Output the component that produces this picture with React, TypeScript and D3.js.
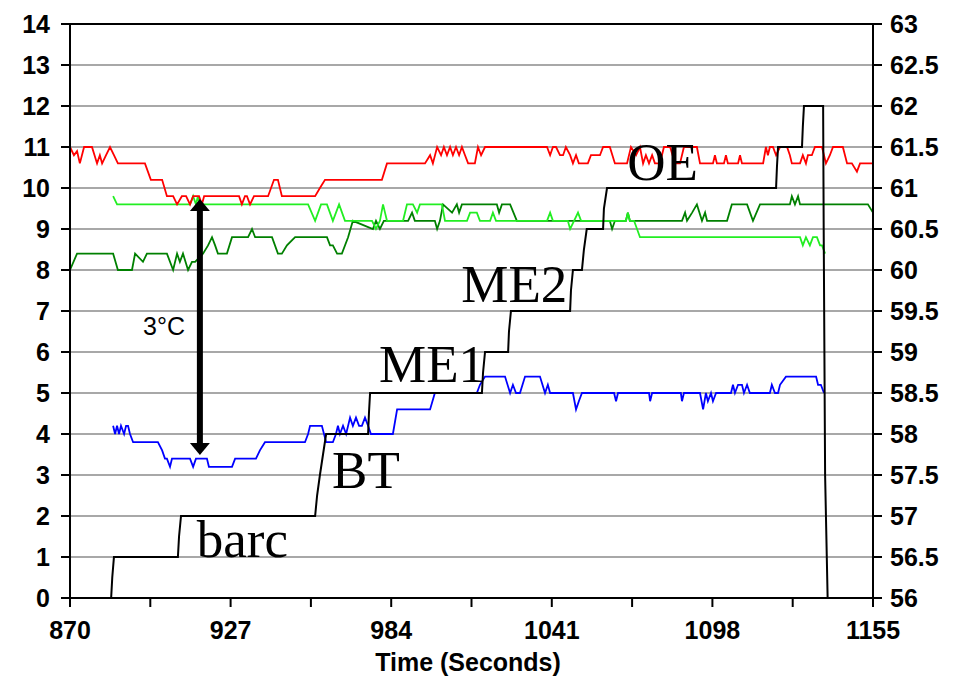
import React from "react";
import * as d3 from "d3";

// ---- Data (time in seconds, value on left axis units) ----
const leftTicks = [0, 1, 2, 3, 4, 5, 6, 7, 8, 9, 10, 11, 12, 13, 14];
const rightTicks = [56, 56.5, 57, 57.5, 58, 58.5, 59, 59.5, 60, 60.5, 61, 61.5, 62, 62.5, 63];
const xLabelTicks = [870, 927, 984, 1041, 1098, 1155];
const xMinorTicks = [898.5, 955.5, 1012.5, 1069.5, 1126.5];

const redSeries: [number, number][] = [
  [870.0, 11], [871.4, 10.8], [872.5, 10.9], [873.5, 10.6], [875.0, 11], [877.8, 11], [879.6, 10.6],
  [880.6, 10.8], [881.4, 10.6], [882.8, 10.8], [884.2, 11], [885.6, 10.8], [887.0, 10.6], [896.6, 10.6],
  [898.7, 10.2], [902.7, 10.2], [904.4, 9.8], [906.6, 9.8], [908.0, 9.6], [909.7, 9.8], [911.2, 9.8],
  [912.6, 9.6], [913.7, 9.8], [915.8, 9.8], [916.8, 9.6], [917.6, 9.8], [930.0, 9.8], [931.0, 9.6],
  [932.1, 9.8], [932.8, 9.8], [933.9, 9.6], [935.3, 9.8], [940.3, 9.8], [942.4, 10.2], [943.8, 10.2],
  [945.2, 9.8], [957.0, 9.8], [958.7, 10.0], [960.5, 10.2], [980.7, 10.2], [982.5, 10.6], [996.0, 10.6],
  [997.8, 10.8], [998.8, 10.6], [1000.3, 11], [1001.7, 10.8], [1002.7, 11], [1003.8, 10.8], [1004.9, 11],
  [1005.9, 10.8], [1007.0, 11], [1008.1, 10.8], [1009.1, 11], [1010.2, 10.8], [1011.3, 10.6], [1013.7, 10.6],
  [1014.8, 11], [1015.9, 10.8], [1017.3, 11], [1019.1, 11], [1039.3, 11], [1040.4, 10.8], [1041.4, 11],
  [1042.5, 11], [1043.9, 10.8], [1045.0, 10.8], [1046.0, 11], [1047.5, 10.8], [1048.5, 10.6], [1049.6, 10.8],
  [1050.6, 10.6], [1053.8, 10.6], [1054.9, 10.8], [1058.1, 10.8], [1059.2, 11], [1061.6, 11], [1063.4, 10.6],
  [1067.7, 10.6], [1069.1, 11], [1070.9, 10.8], [1072.3, 11], [1073.4, 10.6], [1074.4, 10.8], [1075.5, 10.6],
  [1076.6, 10.8], [1077.6, 10.6], [1079.4, 10.6], [1080.8, 11], [1083.0, 11], [1084.7, 10.6], [1086.5, 10.6],
  [1087.9, 11], [1092.5, 11], [1093.6, 10.6], [1098.2, 10.6], [1098.9, 10.8], [1099.6, 10.6], [1102.1, 10.6],
  [1102.8, 10.8], [1103.5, 10.6], [1107.1, 10.6], [1107.8, 10.8], [1108.5, 10.6], [1116.0, 10.6], [1117.0, 11],
  [1117.7, 10.8], [1118.4, 11], [1119.5, 11], [1120.6, 10.8], [1122.0, 11], [1124.5, 11], [1125.5, 10.8],
  [1126.2, 10.6], [1129.1, 10.6], [1130.1, 10.8], [1131.2, 10.6], [1131.9, 10.8], [1133.3, 10.8], [1134.4, 11],
  [1136.9, 11], [1138.3, 10.6], [1139.7, 10.8], [1140.8, 11], [1144.3, 11], [1145.8, 10.6], [1147.5, 10.6],
  [1149.3, 10.4], [1150.4, 10.6], [1155.0, 10.6],
];

const lightGreenSeries: [number, number][] = [
  [885.3, 9.8], [886.7, 9.6], [912.6, 9.6], [913.7, 9.8], [914.7, 9.6], [915.4, 9.8], [916.1, 9.6],
  [954.5, 9.6], [957.0, 9.2], [959.1, 9.6], [961.2, 9.6], [963.3, 9.2], [965.5, 9.6], [967.6, 9.2],
  [977.2, 9.2], [978.6, 9.0], [980.0, 9.2], [981.1, 9.6], [981.8, 9.4], [982.5, 9.2], [988.2, 9.2],
  [989.6, 9.6], [991.7, 9.6], [993.2, 9.4], [994.2, 9.6], [1002.0, 9.6], [1003.1, 9.2], [1010.9, 9.2],
  [1012.0, 9.4], [1014.4, 9.4], [1015.5, 9.2], [1019.1, 9.2], [1020.1, 9.4], [1021.2, 9.2], [1039.3, 9.2],
  [1040.4, 9.4], [1041.4, 9.2], [1046.7, 9.2], [1047.5, 9.0], [1048.9, 9.2], [1050.3, 9.4], [1051.4, 9.2],
  [1067.3, 9.2], [1068.0, 9.4], [1068.7, 9.2], [1070.2, 9.2], [1072.3, 8.8], [1129.1, 8.8], [1130.1, 8.6],
  [1131.2, 8.8], [1132.6, 8.6], [1133.7, 8.8], [1135.1, 8.8], [1136.2, 8.6], [1136.9, 8.6], [1138.0, 8.4],
];

const darkGreenSeries: [number, number][] = [
  [870.0, 8.0], [872.5, 8.4], [885.3, 8.4], [887.0, 8.0], [892.0, 8.0], [893.1, 8.4], [895.9, 8.2],
  [897.3, 8.4], [904.4, 8.4], [906.6, 8.0], [908.0, 8.4], [909.0, 8.2], [910.1, 8.4], [911.9, 8.0],
  [913.3, 8.2], [914.4, 8.2], [917.2, 8.4], [919.0, 8.6], [920.4, 8.8], [921.5, 8.6], [922.5, 8.4],
  [925.7, 8.4], [927.5, 8.8], [933.2, 8.8], [934.6, 9.0], [935.7, 8.8], [941.7, 8.8], [943.8, 8.4],
  [945.2, 8.4], [947.0, 8.6], [949.9, 8.8], [961.2, 8.8], [962.3, 8.6], [963.3, 8.6], [964.8, 8.4],
  [966.5, 8.4], [968.7, 8.8], [970.4, 9.2], [977.5, 9.0], [978.6, 9.2], [980.0, 9.0], [981.4, 9.2],
  [990.0, 9.2], [991.4, 9.4], [992.4, 9.2], [999.5, 9.2], [1000.3, 9.0], [1001.3, 9.2], [1002.4, 9.6],
  [1005.6, 9.4], [1007.3, 9.6], [1008.1, 9.4], [1009.1, 9.6], [1021.5, 9.6], [1022.3, 9.4], [1023.3, 9.6],
  [1026.2, 9.6], [1028.6, 9.2], [1061.6, 9.2], [1062.4, 9.0], [1063.4, 9.2], [1067.3, 9.2], [1068.0, 9.4],
  [1068.7, 9.2], [1087.2, 9.2], [1088.3, 9.4], [1089.0, 9.2], [1090.8, 9.4], [1092.5, 9.6], [1094.3, 9.2],
  [1095.4, 9.4], [1096.1, 9.2], [1103.2, 9.2], [1104.9, 9.6], [1110.3, 9.6], [1112.4, 9.2], [1114.9, 9.6],
  [1125.5, 9.6], [1126.2, 9.8], [1127.3, 9.6], [1128.4, 9.8], [1129.1, 9.6], [1153.2, 9.6], [1155.0, 9.4],
];

const blueSeries: [number, number][] = [
  [885.3, 4.2], [886.0, 4.0], [886.7, 4.2], [887.4, 4.0], [888.1, 4.2], [889.2, 4.0], [889.9, 4.2],
  [890.6, 4.2], [891.3, 4.0], [892.4, 3.8], [901.2, 3.8], [902.7, 3.6], [903.7, 3.4], [904.4, 3.4],
  [905.5, 3.2], [906.2, 3.4], [912.6, 3.4], [913.7, 3.2], [914.7, 3.4], [918.6, 3.4], [919.3, 3.2],
  [927.5, 3.2], [928.6, 3.4], [936.0, 3.4], [937.4, 3.6], [939.2, 3.8], [953.4, 3.8], [954.5, 4.0],
  [955.2, 4.2], [959.4, 4.2], [960.9, 3.8], [963.3, 3.8], [964.4, 4.0], [965.1, 4.2], [965.8, 4.0],
  [966.9, 4.2], [968.0, 4.0], [969.4, 4.4], [970.4, 4.2], [971.5, 4.4], [972.6, 4.2], [973.6, 4.2],
  [974.7, 4.4], [975.8, 4.2], [976.8, 4.0], [984.6, 4.0], [986.1, 4.6], [997.8, 4.6], [999.5, 5.0],
  [1014.4, 5.0], [1015.5, 5.2], [1017.3, 5.4], [1024.4, 5.4], [1026.2, 5.0], [1027.2, 5.2], [1028.3, 5.0],
  [1029.7, 5.0], [1031.5, 5.4], [1036.8, 5.4], [1038.6, 5.0], [1039.6, 5.2], [1040.4, 5.0], [1048.5, 5.0],
  [1049.6, 4.6], [1050.6, 4.8], [1051.7, 5.0], [1063.1, 5.0], [1063.8, 4.8], [1064.5, 5.0], [1075.5, 5.0],
  [1075.9, 4.8], [1076.6, 5.0], [1086.8, 5.0], [1087.2, 4.8], [1087.9, 5.0], [1093.6, 5.0], [1094.7, 4.6],
  [1095.7, 5.0], [1096.4, 4.8], [1097.5, 5.0], [1098.2, 4.8], [1099.3, 5.0], [1104.6, 5.0], [1105.3, 5.2],
  [1106.0, 5.0], [1107.1, 5.2], [1108.5, 5.2], [1109.2, 5.0], [1110.3, 5.2], [1111.3, 5.0], [1118.4, 5.0],
  [1119.1, 5.2], [1120.2, 5.0], [1121.3, 5.0], [1122.0, 5.2], [1124.1, 5.4], [1134.8, 5.4], [1135.5, 5.2],
  [1136.5, 5.2], [1137.6, 5.0],
];

const stageSeries: [number, number][] = [
  [884.6, 0], [885.0, 0.5], [885.6, 1], [908.3, 1], [908.7, 1.5], [909.4, 2], [957.0, 2], [957.7, 2.5],
  [958.7, 3], [959.8, 3.5], [960.9, 4], [975.8, 4], [976.1, 4.5], [976.5, 5], [1016.2, 5], [1016.6, 5.5],
  [1017.3, 6], [1025.5, 6], [1025.8, 6.5], [1026.5, 7], [1047.5, 7], [1047.8, 7.5], [1048.5, 8],
  [1051.7, 8], [1052.4, 8.5], [1053.4, 9], [1059.2, 9], [1059.5, 9.5], [1060.6, 10], [1120.6, 10],
  [1120.9, 10.5], [1121.3, 11], [1129.8, 11], [1130.1, 11.5], [1130.5, 12], [1137.3, 12], [1137.5, 9],
  [1138.0, 3], [1138.9, 0],
];

const stageLabels = [
  { text: "OE", t: 1067.8, v: 10.2 },
  { text: "ME2", t: 1008.9, v: 7.22 },
  { text: "ME1", t: 979.7, v: 5.27 },
  { text: "BT", t: 963.0, v: 2.68 },
  { text: "barc", t: 915.0, v: 1.0 },
];

const arrowTime = 916.1;
const arrowTop = 9.73;
const arrowBottom = 3.49;
const arrowLabel = "3°C";

const W = 963;
const H = 677;
const plot = { left: 70, right: 873, top: 24, bottom: 598 };

export default function App() {
  const x = d3.scaleLinear().domain([870, 1155]).range([plot.left, plot.right]);
  const y = d3.scaleLinear().domain([0, 14]).range([plot.bottom, plot.top]);
  const yR = d3.scaleLinear().domain([56, 63]).range([plot.bottom, plot.top]);
  const line = d3
    .line<[number, number]>()
    .x((d) => x(d[0]))
    .y((d) => y(d[1]));

  const tickFont = "'Liberation Sans', Arial, sans-serif";
  const ax = x(arrowTime);
  const aTop = y(arrowTop);
  const aBot = y(arrowBottom);

  return (
    <svg
      width={W}
      height={H}
      style={{ position: "absolute", left: 0, top: 0, background: "#fff" }}
    >
      <rect x={0} y={0} width={W} height={H} fill="#fff" />
      {/* gridlines */}
      {leftTicks.slice(1, -1).map((v) => (
        <line key={"g" + v} x1={plot.left} x2={plot.right} y1={y(v)} y2={y(v)} stroke="#a8a8a8" strokeWidth={2} />
      ))}
      {/* series */}
      <path d={line(darkGreenSeries) || ""} fill="none" stroke="#008000" strokeWidth={1.8} />
      <path d={line(lightGreenSeries) || ""} fill="none" stroke="#22ee22" strokeWidth={1.8} />
      <path d={line(redSeries) || ""} fill="none" stroke="#ff0000" strokeWidth={1.8} />
      <path d={line(blueSeries) || ""} fill="none" stroke="#0000ff" strokeWidth={1.8} />
      <path d={line(stageSeries) || ""} fill="none" stroke="#000" strokeWidth={2} />
      {/* frame */}
      <rect x={plot.left} y={plot.top} width={plot.right - plot.left} height={plot.bottom - plot.top} fill="none" stroke="#000" strokeWidth={2} />
      {/* left axis */}
      {leftTicks.map((v) => (
        <g key={"l" + v}>
          <line x1={plot.left - 9} x2={plot.left} y1={y(v)} y2={y(v)} stroke="#000" strokeWidth={2} />
          <text x={50} y={y(v) + 9} textAnchor="end" fontFamily={tickFont} fontWeight="bold" fontSize={25}>
            {v}
          </text>
        </g>
      ))}
      {/* right axis */}
      {rightTicks.map((v) => (
        <g key={"r" + v}>
          <line x1={plot.right} x2={plot.right + 9} y1={yR(v)} y2={yR(v)} stroke="#000" strokeWidth={2} />
          <text x={890} y={yR(v) + 9} textAnchor="start" fontFamily={tickFont} fontWeight="bold" fontSize={25}>
            {v}
          </text>
        </g>
      ))}
      {/* x axis */}
      {xLabelTicks.concat(xMinorTicks).map((t) => (
        <line key={"x" + t} x1={x(t)} x2={x(t)} y1={plot.bottom} y2={plot.bottom + 9} stroke="#000" strokeWidth={2} />
      ))}
      {xLabelTicks.map((t) => (
        <text key={"xl" + t} x={x(t)} y={639} textAnchor="middle" fontFamily={tickFont} fontWeight="bold" fontSize={25}>
          {t}
        </text>
      ))}
      <text x={468} y={671} textAnchor="middle" fontFamily={tickFont} fontWeight="bold" fontSize={25}>
        Time (Seconds)
      </text>
      {/* stage labels */}
      {stageLabels.map((s) => (
        <text key={s.text} x={x(s.t)} y={y(s.v)} fontFamily="'Liberation Serif', 'Times New Roman', serif" fontSize={53}>
          {s.text}
        </text>
      ))}
      {/* arrow annotation */}
      <line x1={ax} x2={ax} y1={aTop + 10} y2={aBot - 10} stroke="#000" strokeWidth={6} />
      <path d={`M${ax},${aTop} L${ax - 10},${aTop + 12} L${ax + 10},${aTop + 12} Z`} fill="#000" />
      <path d={`M${ax},${aBot} L${ax - 10},${aBot - 12} L${ax + 10},${aBot - 12} Z`} fill="#000" />
      <text x={143} y={335} fontFamily={tickFont} fontSize={25}>
        {arrowLabel}
      </text>
    </svg>
  );
}
